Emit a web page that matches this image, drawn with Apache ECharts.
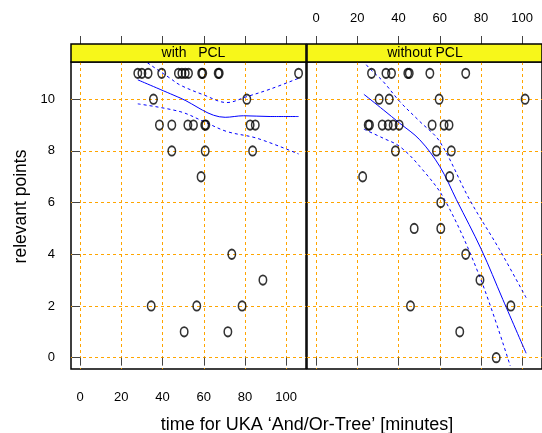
<!DOCTYPE html>
<html><head><meta charset="utf-8">
<script src="https://cdn.jsdelivr.net/npm/echarts@6/dist/echarts.min.js"></script>
<style>html,body{margin:0;padding:0;background:#fff}#c{width:542px;height:433px}</style>
</head><body><div id="c"></div>
<script>
// ---- data ----
const panelNames = ['with   PCL', 'without PCL'];
const xTicks = [0, 20, 40, 60, 80, 100];
const yTicks = [0, 2, 4, 6, 8, 10];
const xTitle = 'time for UKA \u2018And/Or-Tree\u2019 [minutes]';
const yTitle = 'relevant points';

// panel 1: with PCL
const withX = [28, 30, 33, 39.6, 47.7, 49.4, 51, 52.6, 59, 59.5, 67, 67.5, 106,
  35.6, 80.9,
  38.5, 44.5, 52.3, 55, 60.5, 61, 82.5, 85,
  44.5, 60.7, 83.7,
  58.7,
  73.6,
  88.7,
  34.5, 56.6, 78.6,
  50.5, 71.7];
const withY = [11, 11, 11, 11, 11, 11, 11, 11, 11, 11, 11, 11, 11,
  10, 10,
  9, 9, 9, 9, 9, 9, 9, 9,
  8, 8, 8,
  7,
  4,
  3,
  2, 2, 2,
  1, 1];
const withFitX   = [28, 48.5, 70.4, 79.3, 92.2, 106];
const withFitY   = [10.75, 10.05, 9.30, 9.36, 9.33, 9.33];
const withUpX    = [28, 32.7, 43.7, 48.5, 59.9, 71.2, 80.9, 92.2, 106];
const withUpY    = [11.7, 11.41, 10.81, 10.55, 10.17, 9.87, 10.10, 10.39, 10.81];
const withLoX    = [28, 48.5, 59.9, 71.2, 85.8, 106];
const withLoY    = [9.82, 9.52, 9.14, 8.75, 8.49, 7.88];

// panel 2: without PCL
const withoutX = [26.9, 33.9, 36.6, 44.5, 45.2, 55.2, 72.6,
  30.6, 35.5, 59.7, 101.4,
  25.3, 25.9, 32.1, 35, 37.4, 40.3, 56.3, 62.1, 64.5,
  38.5, 58.4, 65.6,
  22.6, 64.8,
  60.5,
  47.6, 60.5,
  72.6,
  79.5,
  45.8, 94.5,
  69.7,
  87.4];
const withoutY = [11, 11, 11, 11, 11, 11, 11,
  10, 10, 10, 10,
  9, 9, 9, 9, 9, 9, 9, 9, 9,
  8, 8, 8,
  7, 7,
  6,
  5, 5,
  4,
  3,
  2, 2,
  1,
  0];
const withoutFitX = [23.2, 32.6, 40.6, 50.3, 60, 68.1, 80.2, 90.6, 101.9];
const withoutFitY = [10.19, 9.59, 9.07, 8.43, 7.40, 6.11, 4.18, 2.25, 0.17];
const withoutUpX  = [23.2, 24.5, 32.6, 40.6, 50.3, 60, 74.5, 89, 101.9];
const withoutUpY  = [11.55, 11.32, 10.68, 9.91, 9.14, 8.36, 6.11, 4.18, 2.32];
const withoutLoX  = [23.2, 32.6, 40.6, 50.3, 62.4, 79.3, 94.2];
const withoutLoY  = [8.84, 8.49, 8.17, 7.40, 6.11, 3.15, -0.32];

// ---- chart ----
const zip = (a, b) => a.map((v, i) => [v, b[i]]);
const FONT = 'Liberation Sans, Arial, sans-serif';
const XMIN = -4.4, XMAX = 109.6, YMIN = -0.44, YMAX = 11.44;
const TOP = 62, H = 307, W = 235;
const lefts = [71, 307];
const gridLineStyle = { color: '#ffa500', type: [3, 3], width: 1 };

function xAxis(gridIndex, position, labels, offset, split) {
  return {
    type: 'value', gridIndex, position, offset: offset || 0,
    min: XMIN, max: XMAX,
    axisLine: { show: false },
    splitLine: { show: !!split, lineStyle: gridLineStyle },
    axisTick: { show: true, length: 8, inside: false, customValues: xTicks,
      lineStyle: { color: '#444', width: 1 } },
    axisLabel: { show: labels, customValues: xTicks, color: '#000',
      fontFamily: FONT, fontSize: 13, margin: position === 'top' ? 19 : 22 }
  };
}
function yAxis(gridIndex, labels) {
  return {
    type: 'value', gridIndex, position: 'left',
    min: YMIN, max: YMAX,
    axisLine: { show: false },
    splitLine: { show: true, lineStyle: gridLineStyle },
    axisTick: { show: labels, length: 8, inside: false, customValues: yTicks,
      lineStyle: { color: '#444', width: 1 } },
    axisLabel: { show: labels, customValues: yTicks, color: '#000',
      fontFamily: FONT, fontSize: 13, margin: 16 }
  };
}
function scatter(xi, yi, xs, ys) {
  return {
    type: 'scatter', xAxisIndex: xi, yAxisIndex: yi, data: zip(xs, ys),
    symbol: 'circle', symbolSize: [7.4, 9.4], z: 3,
    itemStyle: { color: 'rgba(0,0,0,0)', borderColor: '#000', borderWidth: 1.7 }
  };
}
function curve(xi, yi, xs, ys, dashed) {
  return {
    type: 'line', xAxisIndex: xi, yAxisIndex: yi, data: zip(xs, ys),
    smooth: 0.35, symbol: 'none', z: 2, clip: true,
    lineStyle: { color: '#0000ff', width: 1, type: dashed ? [3, 3] : 'solid' }
  };
}

const chart = echarts.init(document.getElementById('c'), null, { renderer: 'canvas' });
chart.setOption({
  animation: false,
  backgroundColor: '#fff',
  grid: lefts.map(l => ({ left: l, top: TOP, width: W, height: H, show: true,
    borderColor: '#000', borderWidth: 1.5, backgroundColor: 'rgba(0,0,0,0)' })),
  xAxis: [
    xAxis(0, 'bottom', true, 0, true), xAxis(0, 'top', false, 18, false),
    xAxis(1, 'bottom', false, 0, true), xAxis(1, 'top', true, 18, false)
  ],
  yAxis: [yAxis(0, true), yAxis(1, false)],
  series: [
    scatter(0, 0, withX, withY),
    curve(0, 0, withFitX, withFitY, false),
    curve(0, 0, withUpX, withUpY, true),
    curve(0, 0, withLoX, withLoY, true),
    scatter(2, 1, withoutX, withoutY),
    curve(2, 1, withoutFitX, withoutFitY, false),
    curve(2, 1, withoutUpX, withoutUpY, true),
    curve(2, 1, withoutLoX, withoutLoY, true)
  ],
  graphic: [
    ...lefts.map(l => ({ type: 'rect', shape: { x: l, y: 44, width: W, height: 18 },
      style: { fill: '#f7f71a', stroke: '#000', lineWidth: 1.5 }, z: 10 })),
    { type: 'text', x: 193.5, y: 53, z: 11,
      style: { text: panelNames[0], fill: '#000', font: '14px ' + FONT, align: 'center', verticalAlign: 'middle' } },
    { type: 'text', x: 425, y: 53, z: 11,
      style: { text: panelNames[1], fill: '#000', font: '14px ' + FONT, align: 'center', verticalAlign: 'middle' } },
    { type: 'text', x: 307, y: 425, z: 11,
      style: { text: xTitle, fill: '#000', font: '18px ' + FONT, align: 'center', verticalAlign: 'middle' } },
    { type: 'text', x: 21, y: 206.5, rotation: Math.PI / 2, z: 11,
      style: { text: yTitle, fill: '#000', font: '17.5px ' + FONT, align: 'center', verticalAlign: 'middle' } }
  ]
});
</script></body></html>
